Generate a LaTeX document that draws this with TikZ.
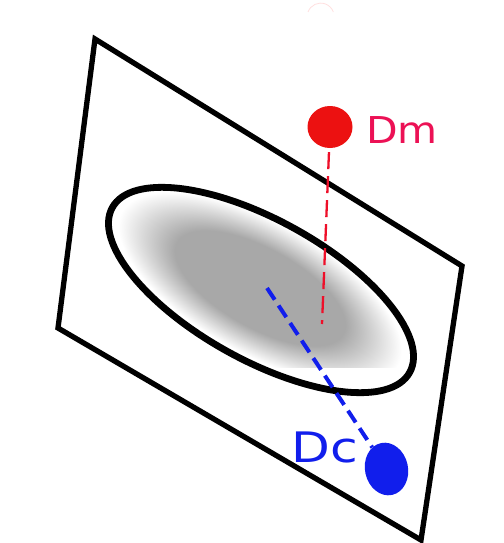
\documentclass[tikz,border=0pt]{standalone}
\usetikzlibrary{shapes.geometric}
\usepackage{fontspec}
\setmainfont{DejaVu Sans}
\definecolor{blobgray}{RGB}{168,168,168}
\definecolor{dmred}{RGB}{236,17,17}
\definecolor{dmtext}{RGB}{236,17,85}
\definecolor{dcblue}{RGB}{17,30,236}
\pgfdeclareradialshading{blob}{\pgfpoint{0bp}{0bp}}{color(0bp)=(blobgray); color(15bp)=(blobgray); color(25bp)=(white); color(50bp)=(white)}
\tikzset{
  frame/.style={draw=black, line width=5.3pt, line join=miter},
  ring/.style={draw=black, line width=6.8pt},
  reddash/.style={draw=dmred!90!magenta, line width=2.3pt, dash pattern=on 17pt off 7pt},
  bluedash/.style={draw=dcblue, line width=4pt, dash pattern=on 14pt off 7pt},
  lbl/.style={inner sep=0pt, anchor=base west}
}
\begin{document}
\begin{tikzpicture}[x=1pt,y=-1pt]
\fill[white] (0,0) rectangle (503,543);
\useasboundingbox (0,0) rectangle (503,543);
% faint arc at top
\draw[red!12, line width=0.8pt] (308,12) arc[start angle=200, end angle=340, radius=13.5];
% plane
\coordinate (p1) at (95,39);
\coordinate (p2) at (462,266);
\coordinate (p3) at (421,540);
\coordinate (p4) at (58,328);
\draw[frame] (p1) -- (p2) -- (p3) -- (p4) -- cycle;
% shaded blob
\begin{scope}
  \clip[rotate around={-29:(261,290)}] (261,290) ellipse [x radius=168, y radius=68];
  \clip (0,0) rectangle (503,367);
  \begin{scope}[transform canvas={rotate around={-29:(260,288)}}]
    \shade[shading=blob] (260,288) ellipse [x radius=158, y radius=66];
  \end{scope}
\end{scope}
% ellipse outline
\draw[ring, rotate around={-29:(261,290)}] (261,290) ellipse [x radius=170, y radius=70];
% Dm
\node[fill=dmred, ellipse, minimum width=45pt, minimum height=42pt, inner sep=0pt] (dm) at (330,127) {};
\coordinate (dmend) at (322,324);
\draw[reddash, shorten <=4pt] (dm) -- (dmend);
\node[lbl, text=dmtext, font=\fontsize{37}{40}\selectfont, xscale=1.11] (dmlbl) at (366,143) {Dm};
% Dc
\node[fill=dcblue, ellipse, minimum width=43pt, minimum height=53pt, inner sep=0pt, rotate=12] (dc) at (386.5,469) {};
\coordinate (dcstart) at (267,288);
\draw[bluedash] (dcstart) -- (dc);
\node[lbl, text=dcblue, font=\fontsize{42}{45}\selectfont, xscale=1.2] (dclbl) at (291,462) {Dc};
\end{tikzpicture}
\end{document}
